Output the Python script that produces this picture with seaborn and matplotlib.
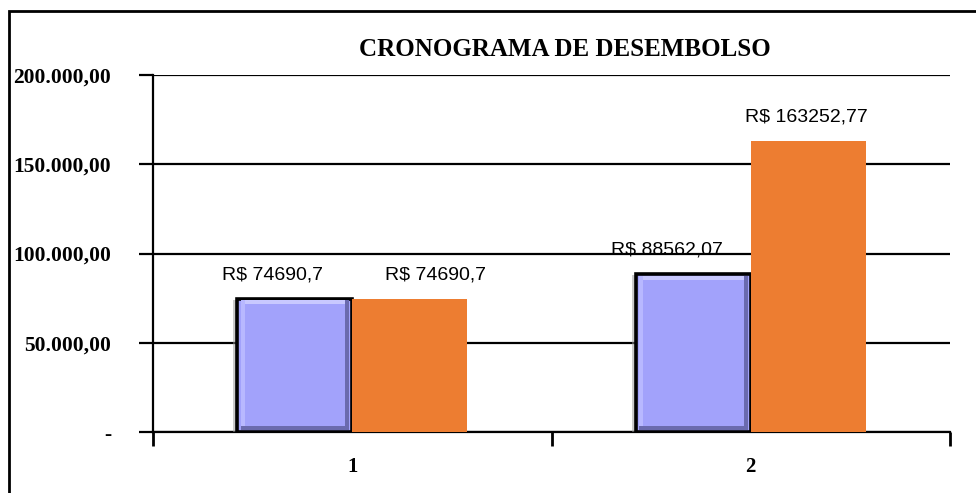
import matplotlib
matplotlib.use("Agg")
import matplotlib.pyplot as plt
import matplotlib.patches as mpatches
import matplotlib.patheffects as pe
import pandas as pd
import seaborn as sns

# data
periodos = ["1", "2"]
serie_a = [74690.7, 88562.07]
serie_b = [74690.7, 163252.77]
rotulos_a = ["R$ 74690,7", "R$ 88562,07"]
rotulos_b = ["R$ 74690,7", "R$ 163252,77"]
y_ticks = [0, 50000, 100000, 150000, 200000]
y_tick_labels = ["-", "50.000,00", "100.000,00", "150.000,00", "200.000,00"]
titulo = "CRONOGRAMA DE DESEMBOLSO"

COR_A = "#A2A2FB"
COR_B = "#ED7D31"

df = pd.DataFrame(
    {
        "periodo": periodos * 2,
        "valor": serie_a + serie_b,
        "serie": ["A"] * len(periodos) + ["B"] * len(periodos),
    }
)

sns.set_style("white")
plt.rcParams["font.family"] = ["Liberation Serif", "DejaVu Serif"]
plt.rcParams["text.color"] = "black"
plt.rcParams["xtick.color"] = "black"
plt.rcParams["ytick.color"] = "black"

fig = plt.figure(figsize=(9.76, 4.93), dpi=100)
ax = fig.add_axes([153 / 976, 1 - 432 / 493, (950 - 153) / 976, (432 - 75) / 493])

sns.barplot(
    data=df, x="periodo", y="valor", hue="serie",
    palette=[COR_A, COR_B], width=0.576, saturation=1,
    legend=False, ax=ax, zorder=3,
)

# style the bars: purple ones get a black frame, soft shadow and a bevel
bars_a = ax.patches[: len(periodos)]
bars_b = ax.patches[len(periodos): 2 * len(periodos)]
for b in bars_a:
    b.set_edgecolor("black")
    b.set_linewidth(2.6)
    b.set_path_effects([
        pe.SimplePatchShadow(offset=(-3, -1), shadow_rgbFace="#999999", alpha=0.5),
        pe.Normal(),
    ])
    x0, w, h = b.get_x(), b.get_width(), b.get_height()
    ax.add_patch(mpatches.Rectangle((x0 + 0.008, h - 3200), w - 0.016, 2300,
                                    color="#C8C8FF", zorder=3.5, lw=0))
    ax.add_patch(mpatches.Rectangle((x0 + 0.008, 900), 0.01, h - 1800,
                                    color="#B8B8FF", zorder=3.5, lw=0))
    ax.add_patch(mpatches.Rectangle((x0 + 0.008, 900), w - 0.016, 2300,
                                    color="#6A6AAE", zorder=3.5, lw=0))
    ax.add_patch(mpatches.Rectangle((x0 + w - 0.018, 900), 0.01, h - 1800,
                                    color="#6A6AAE", zorder=3.5, lw=0))
for b in bars_b:
    b.set_edgecolor("none")
    b.set_linewidth(0)

# value labels; Excel nudged some sideways so they do not collide
desloc_a = [-22, -26]
desloc_b = [26, -2]
for b, txt, dx in zip(list(bars_a) + list(bars_b), rotulos_a + rotulos_b, desloc_a + desloc_b):
    ax.annotate(txt, (b.get_x() + b.get_width() / 2, b.get_height()),
                xytext=(dx * 0.72, 11), textcoords="offset points",
                ha="center", va="bottom", fontsize=14,
                family=["Liberation Sans", "DejaVu Sans"], color="black", zorder=5)

ax.set_xlim(-0.5, len(periodos) - 0.5)
ax.set_ylim(0, 200000)

# y axis
ax.set_yticks(y_ticks)
ax.set_yticklabels(y_tick_labels, fontsize=15.5, fontweight="bold")
ax.yaxis.grid(True, color="black", linewidth=1.6, zorder=1)
ax.set_axisbelow(True)
ax.tick_params(axis="y", direction="out", length=10, width=1.6, pad=20, left=True)

# x axis: ticks at category boundaries, labels at centres
ax.set_xticks([i - 0.5 for i in range(len(periodos) + 1)])
ax.set_xticklabels([])
ax.set_xticks(range(len(periodos)), minor=True)
ax.set_xticklabels(periodos, minor=True, fontsize=15, fontweight="bold")
ax.tick_params(axis="x", which="major", direction="out", length=10, width=2, bottom=True)
ax.tick_params(axis="x", which="minor", length=0, pad=18)

for s in ["top", "right"]:
    ax.spines[s].set_visible(False)
for s in ["left", "bottom"]:
    ax.spines[s].set_linewidth(1.6)
    ax.spines[s].set_color("black")
ax.set_xlabel("")
ax.set_ylabel("")

fig.text(565 / 976, 1 - 49 / 493, titulo, ha="center", va="center",
         fontsize=18, fontweight="bold")

# outer chart frame (only top and left edges are visible in the crop)
fig.add_artist(mpatches.Rectangle((9 / 976, -0.1), 1.2, 1 - 11 / 493 + 0.1,
                                  transform=fig.transFigure, fill=False,
                                  edgecolor="black", linewidth=2))

fig.savefig("out.png", dpi=100)
